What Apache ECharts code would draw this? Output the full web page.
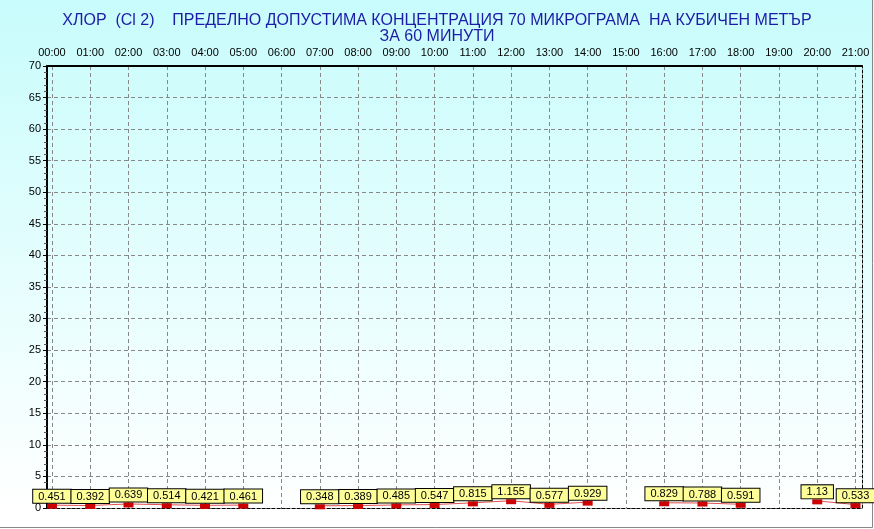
<!DOCTYPE html>
<html>
<head>
<meta charset="utf-8">
<script src="https://cdn.jsdelivr.net/npm/echarts@6/dist/echarts.min.js"></script>
<style>
  html, body { margin: 0; padding: 0; }
  #chart { width: 874px; height: 529px; }
</style>
</head>
<body>
<div id="chart"></div>
<script>
const hours = ["00:00", "01:00", "02:00", "03:00", "04:00", "05:00", "06:00", "07:00",
  "08:00", "09:00", "10:00", "11:00", "12:00", "13:00", "14:00", "15:00",
  "16:00", "17:00", "18:00", "19:00", "20:00", "21:00"];
const chlorine = [0.451, 0.392, 0.639, 0.514, 0.421, 0.461, null, 0.348,
  0.389, 0.485, 0.547, 0.815, 1.155, 0.577, 0.929, null,
  0.829, 0.788, 0.591, null, 1.13, 0.533];
const titleText = "ХЛОР  (Cl 2)    ПРЕДЕЛНО ДОПУСТИМА КОНЦЕНТРАЦИЯ 70 МИКРОГРАМА  НА КУБИЧЕН МЕТЪР\nЗА 60 МИНУТИ";

const hourIdx = hours.map((h, i) => i);
const points = chlorine.map((v, i) => [i, v]);

const chart = echarts.init(document.getElementById("chart"));

const font = "Liberation Sans, Arial, sans-serif";
const gridDash = { color: "#888", type: [4, 3], width: 1 };

const option = {
  animation: false,
  backgroundColor: {
    type: "linear", x: 0, y: 0, x2: 0, y2: 1,
    colorStops: [
      { offset: 0, color: "#c8fcfc" },
      { offset: 0.96, color: "#ffffff" },
      { offset: 1, color: "#ffffff" },
    ],
  },
  textStyle: { fontFamily: font },
  title: {
    text: titleText,
    left: "center",
    top: 8,
    textStyle: {
      color: "#1c1ca8",
      fontSize: 16,
      fontWeight: "normal",
      lineHeight: 16,
      fontFamily: font,
    },
  },
  grid: {
    left: 47,
    right: 12,
    top: 66,
    bottom: 21,
  },
  xAxis: [
    {
      type: "value",
      position: "top",
      min: -0.13,
      max: 21.17,
      axisLine: { show: true, onZero: false, lineStyle: { color: "#000", width: 2 } },
      axisTick: { show: false, customValues: hourIdx },
      axisLabel: {
        customValues: hourIdx,
        formatter: (v) => hours[Math.round(v)],
        color: "#000",
        fontSize: 11,
        margin: 8,
      },
      splitLine: { show: true, lineStyle: gridDash },
    },
    {
      // bottom frame edge
      type: "value",
      position: "bottom",
      min: -0.13,
      max: 21.17,
      axisLine: { show: true, onZero: false, lineStyle: { color: "#000", width: 1, type: [3, 2] } },
      axisTick: { show: false },
      axisLabel: { show: false },
      splitLine: { show: false },
    },
  ],
  yAxis: [
    {
      type: "value",
      min: 0,
      max: 70,
      interval: 5,
      axisLine: { show: true, onZero: false, lineStyle: { color: "#000", width: 2 } },
      axisTick: { show: true, length: 4, lineStyle: { color: "#000" } },
      minorTick: { show: true, splitNumber: 5, length: 3, lineStyle: { color: "#555" } },
      axisLabel: { color: "#000", fontSize: 11, margin: 6 },
      splitLine: { show: true, lineStyle: gridDash },
    },
    {
      // right frame edge
      type: "value",
      position: "right",
      min: 0,
      max: 70,
      interval: 5,
      axisLine: { show: true, onZero: false, lineStyle: { color: "#000", width: 1, type: [3, 2] } },
      axisTick: { show: false },
      axisLabel: { show: false },
      splitLine: { show: false },
    },
  ],
  series: [
    {
      type: "line",
      data: points,
      connectNulls: false,
      symbol: "rect",
      symbolSize: [10, 5],
      symbolOffset: [0, 1],
      itemStyle: { color: "#cc0000" },
      lineStyle: { color: "#e05050", width: 1 },
      label: {
        show: true,
        position: "top",
        distance: 1,
        formatter: (p) => String(p.value[1]),
        color: "#000",
        fontSize: 11,
        lineHeight: 12,
        fontFamily: font,
        backgroundColor: "#ffff99",
        borderColor: "#000",
        borderWidth: 1,
        padding: [1, 5, 0, 5],
      },
    },
  ],
  graphic: [
    { type: "line", shape: { x1: 872.5, y1: 0, x2: 872.5, y2: 527.5 }, style: { stroke: "#888", lineWidth: 1 } },
    { type: "line", shape: { x1: 0, y1: 527.5, x2: 872.5, y2: 527.5 }, style: { stroke: "#888", lineWidth: 1 } },
  ],
};

chart.setOption(option);
window.addEventListener("resize", () => chart.resize());
</script>
</body>
</html>
